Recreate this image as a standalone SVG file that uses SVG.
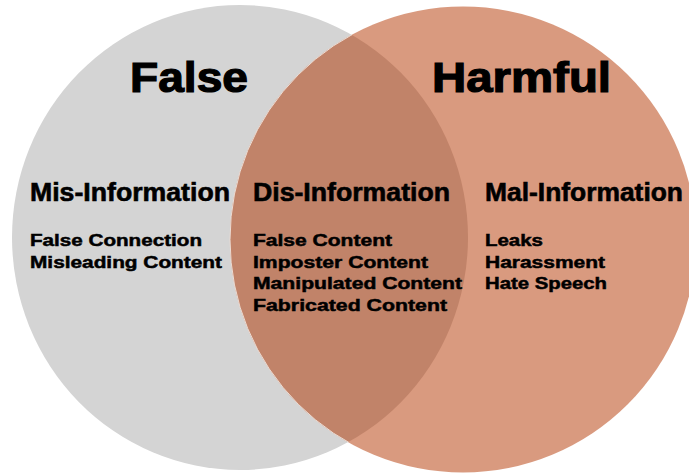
<svg xmlns="http://www.w3.org/2000/svg" width="689" height="475" viewBox="0 0 689 475">
  <style>
    text { font-family: "Liberation Sans", Arial, sans-serif; font-weight: bold; fill: #000; }
    .title { font-size: 42px; stroke: #000; stroke-width: 1.2; }
    .head { font-size: 25px; stroke: #000; stroke-width: 0.6; }
    .item { font-size: 17px; stroke: #000; stroke-width: 0.5; }
  </style>
  <defs>
    <clipPath id="clip-false">
      <ellipse cx="240" cy="237.5" rx="228" ry="232.5"/>
    </clipPath>
  </defs>

  <rect width="689" height="475" fill="#ffffff"/>

  <!-- "False" set -->
  <g id="set-false">
    <ellipse cx="240" cy="237.5" rx="228" ry="232.5" fill="#d4d4d4"/>
  </g>

  <!-- "Harmful" set -->
  <g id="set-harmful">
    <ellipse cx="463" cy="239.5" rx="233" ry="233" fill="#d99a7f"/>
  </g>

  <!-- overlap of both sets -->
  <g id="set-overlap">
    <ellipse cx="463" cy="239.5" rx="233" ry="233" fill="#c18369" clip-path="url(#clip-false)"/>
    <ellipse cx="463" cy="239.5" rx="233" ry="233" fill="none" stroke="#ecdcd4" stroke-width="1" clip-path="url(#clip-false)"/>
  </g>

  <!-- set titles -->
  <g id="title-false">
    <text class="title" x="130" y="92" textLength="118" lengthAdjust="spacingAndGlyphs">False</text>
  </g>
  <g id="title-harmful">
    <text class="title" x="432" y="92" textLength="179" lengthAdjust="spacingAndGlyphs">Harmful</text>
  </g>

  <!-- Mis-Information -->
  <g id="mis-information">
    <text class="head" x="30" y="201" textLength="200" lengthAdjust="spacingAndGlyphs">Mis-Information</text>
    <text class="item" x="30" y="246" textLength="172" lengthAdjust="spacingAndGlyphs">False Connection</text>
    <text class="item" x="30" y="268" textLength="192" lengthAdjust="spacingAndGlyphs">Misleading Content</text>
  </g>

  <!-- Dis-Information -->
  <g id="dis-information">
    <text class="head" x="253" y="201" textLength="197" lengthAdjust="spacingAndGlyphs">Dis-Information</text>
    <text class="item" x="253" y="246" textLength="139" lengthAdjust="spacingAndGlyphs">False Content</text>
    <text class="item" x="253" y="268" textLength="175" lengthAdjust="spacingAndGlyphs">Imposter Content</text>
    <text class="item" x="253" y="289" textLength="209" lengthAdjust="spacingAndGlyphs">Manipulated Content</text>
    <text class="item" x="253" y="311" textLength="194" lengthAdjust="spacingAndGlyphs">Fabricated Content</text>
  </g>

  <!-- Mal-Information -->
  <g id="mal-information">
    <text class="head" x="485" y="201" textLength="198" lengthAdjust="spacingAndGlyphs">Mal-Information</text>
    <text class="item" x="485" y="246" textLength="58" lengthAdjust="spacingAndGlyphs">Leaks</text>
    <text class="item" x="485" y="268" textLength="120" lengthAdjust="spacingAndGlyphs">Harassment</text>
    <text class="item" x="485" y="289" textLength="122" lengthAdjust="spacingAndGlyphs">Hate Speech</text>
  </g>
</svg>
